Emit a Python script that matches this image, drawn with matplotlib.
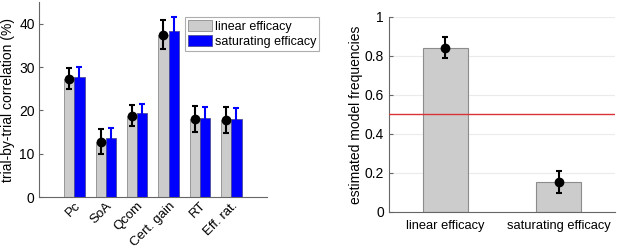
import matplotlib.pyplot as plt
import numpy as np

plt.rcParams['font.family'] = ['Liberation Sans', 'DejaVu Sans']
plt.rcParams['font.size'] = 10

# left panel: trial-by-trial correlation (%)
measures = ['Pc', 'SoA', 'Qcom', 'Cert. gain', 'RT', 'Eff. rat.']
linear_mean = [27.3, 12.8, 18.8, 37.5, 17.9, 17.7]
linear_err = [2.4, 2.8, 2.35, 3.4, 3.0, 3.0]
saturating_mean = [27.7, 13.6, 19.4, 38.3, 18.2, 17.9]
saturating_err = [2.3, 2.3, 2.0, 3.3, 2.6, 2.6]

# right panel: estimated model frequencies
models = ['linear efficacy', 'saturating efficacy']
model_freq = [0.843, 0.155]
model_err = [0.056, 0.056]
chance_level = 0.5

grey = (0.8, 0.8, 0.8)
blue = (0, 0, 1)
spine_col = (0.4, 0.4, 0.4)

fig = plt.figure(figsize=(6.17, 2.52), dpi=100)

# ---- left panel ----
ax1 = fig.add_axes([0.064, 0.218, 0.369, 0.774])
x = np.arange(1, len(measures) + 1)
w = 0.325
ax1.bar(x - w / 2, linear_mean, w, color=grey, edgecolor=(0.55, 0.55, 0.55),
        linewidth=0.6, label='linear efficacy', zorder=2)
ax1.bar(x + w / 2, saturating_mean, w, color=blue, edgecolor=(0.3, 0.3, 0.6),
        linewidth=0.6, label='saturating efficacy', zorder=2)
ax1.errorbar(x + w / 2, saturating_mean, yerr=saturating_err, fmt='none',
             ecolor=blue, elinewidth=1.5, capsize=2.2, capthick=1.5, zorder=3)
ax1.errorbar(x - w / 2, linear_mean, yerr=linear_err, fmt='o', color='k',
             markersize=6, elinewidth=1.5, capsize=2.2, capthick=1.5, zorder=4)
ax1.set_xlim(-0.11, 7.14)
ax1.set_ylim(0, 45)
ax1.set_yticks([0, 10, 20, 30, 40])
ax1.set_xticks(x)
ax1.set_xticklabels(measures, rotation=45, ha='right', rotation_mode='anchor')
ax1.set_ylabel('trial-by-trial correlation (%)', fontsize=10, labelpad=3)
ax1.spines['top'].set_visible(False)
ax1.spines['right'].set_visible(False)
for s in ['left', 'bottom']:
    ax1.spines[s].set_color(spine_col)
ax1.tick_params(direction='in', length=3, colors=spine_col, labelcolor='k',
                labelsize=10)
ax1.tick_params(axis='x', labelsize=9.5, pad=2)
leg = ax1.legend(loc='upper left', bbox_to_anchor=(0.64, 0.923), frameon=True,
                 fancybox=False, edgecolor=(0.6, 0.6, 0.6), fontsize=9,
                 handlelength=1.9, handleheight=1.0, handletextpad=0.2,
                 borderpad=0.25, labelspacing=0.15, borderaxespad=0)
leg.get_frame().set_linewidth(0.8)

# ---- right panel ----
ax2 = fig.add_axes([0.63, 0.159, 0.367, 0.774])
xm = np.arange(1, len(models) + 1)
ax2.yaxis.grid(True, color=(0.92, 0.92, 0.92), linewidth=0.8, zorder=0)
ax2.set_axisbelow(True)
ax2.bar(xm, model_freq, 0.4, color=grey, edgecolor=(0.55, 0.55, 0.55),
        linewidth=0.8, zorder=2)
ax2.axhline(chance_level, color=(0.85, 0.2, 0.2), linewidth=1.0, zorder=3)
ax2.errorbar(xm, model_freq, yerr=model_err, fmt='o', color='k', markersize=6,
             elinewidth=1.5, capsize=2.2, capthick=1.5, zorder=4)
ax2.set_xlim(0.5, 2.5)
ax2.set_ylim(0, 1)
ax2.set_yticks([0, 0.2, 0.4, 0.6, 0.8, 1])
ax2.set_yticklabels(['0', '0.2', '0.4', '0.6', '0.8', '1'])
ax2.set_xticks(xm)
ax2.set_xticklabels(models)
ax2.set_ylabel('estimated model frequencies', fontsize=10, labelpad=1)
ax2.spines['top'].set_visible(False)
ax2.spines['right'].set_visible(False)
for s in ['left', 'bottom']:
    ax2.spines[s].set_color(spine_col)
ax2.tick_params(direction='in', length=3, colors=spine_col, labelcolor='k',
                labelsize=10)
ax2.tick_params(axis='x', length=0, labelsize=9.3, pad=6)

fig.savefig('out.png', dpi=100)
